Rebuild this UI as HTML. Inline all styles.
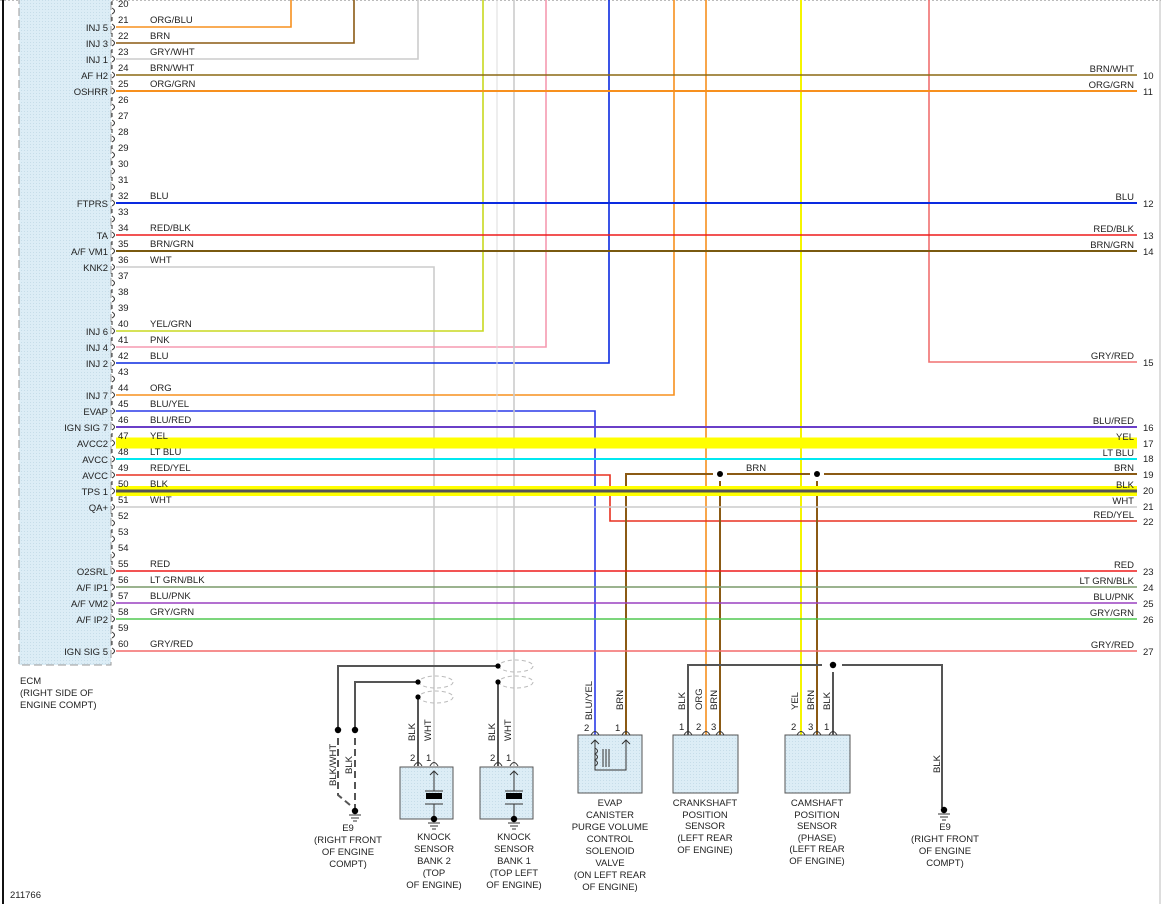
<!DOCTYPE html>
<html><head><meta charset="utf-8"><style>
html,body{margin:0;padding:0;background:#fff}
svg{display:block;font-family:"Liberation Sans",sans-serif;font-size:9.5px;fill:#222}
text{fill:#222}
.r{text-anchor:end}.m{text-anchor:middle}
</style></head><body>
<svg width="1161" height="904" viewBox="0 0 1161 904" xmlns="http://www.w3.org/2000/svg">
<defs>
<pattern id="dots" width="3" height="3" patternUnits="userSpaceOnUse"><rect width="3" height="3" fill="#dcedf6"/><rect width="1" height="1" fill="#c6dde9"/></pattern>
<path id="b" d="M0,-10 v4 M0,-3 q5,3 0,6" fill="none" stroke="#333" stroke-width="1"/>
<path id="p" d="M-4,4 q4,-7 8,0" fill="none" stroke="#333" stroke-width="1"/>
<g id="gnd"><circle cx="0" cy="0" r="3.2" fill="#000"/><path d="M-6,4h12M-4,7h8M-2,10h4" stroke="#333" stroke-width="1"/></g>
</defs>
<line x1="0" y1="0.5" x2="1161" y2="0.5" stroke="#bbb" stroke-dasharray="2,2"/>
<line x1="3" y1="0" x2="3" y2="904" stroke="#111" stroke-width="2"/>
<line x1="1160" y1="0" x2="1160" y2="904" stroke="#bbb"/>
<rect x="19" y="-2" width="92" height="667" fill="url(#dots)" stroke="#999" stroke-dasharray="8,4"/>

<g fill="none" stroke-width="1.6">
<path d="M116,27H291V0" stroke="#f7901e"/>
<path d="M116,43H354V0" stroke="#8b5a14"/>
<path d="M116,59H418V0" stroke="#ccc"/>
<path d="M116,267H434V766" stroke="#ccc"/>
<path d="M116,331H483V0" stroke="#c8d820"/>
<path d="M116,347H546V0" stroke="#f59ab0"/>
<path d="M116,363H609V0" stroke="#0a2ae0"/>
<path d="M116,395H674V0" stroke="#f7901e"/>
<path d="M116,411H595V738" stroke="#2a3ae8"/>
<path d="M514,0V766" stroke="#ccc"/>
<path d="M497,0V660" stroke="#ddd" stroke-width="1"/>
<path d="M706,0V738" stroke="#f7901e"/>
<path d="M801,0V738" stroke="#f5f500" stroke-width="2"/>
<path d="M929,0V362H1137" stroke="#f07070"/>
<path d="M116,475H610V521H1137" stroke="#e83020"/>
<path d="M713,474H626V738" stroke="#8b5a14" stroke-width="2"/>
<path d="M727,474H810M824,474H1137" stroke="#8b5a14" stroke-width="2"/>
<path d="M720,481V738M817,481V738" stroke="#8b5a14" stroke-width="2"/>
</g>
<g stroke-width="1.6">
<line x1="116" y1="75" x2="1137" y2="75" stroke="#8b6914"/>
<line x1="116" y1="91" x2="1137" y2="91" stroke="#f7901e" stroke-width="2"/>
<line x1="116" y1="203" x2="1137" y2="203" stroke="#0a2ae0" stroke-width="2"/>
<line x1="116" y1="235" x2="1137" y2="235" stroke="#ee1c1c"/>
<line x1="116" y1="251" x2="1137" y2="251" stroke="#7a5a10" stroke-width="2"/>
<line x1="116" y1="427" x2="1137" y2="427" stroke="#6a3fc8" stroke-width="2"/>
<line x1="116" y1="443" x2="1137" y2="443" stroke="#ffff00" stroke-width="11"/>
<line x1="116" y1="459" x2="1137" y2="459" stroke="#00e8f0" stroke-width="2"/>
<line x1="116" y1="491" x2="1137" y2="491" stroke="#ffff00" stroke-width="10"/>
<line x1="116" y1="491" x2="1137" y2="491" stroke="#555" stroke-width="3"/>
<line x1="116" y1="507" x2="1137" y2="507" stroke="#ccc"/>
<line x1="116" y1="571" x2="1137" y2="571" stroke="#ee1c1c"/>
<line x1="116" y1="587" x2="1137" y2="587" stroke="#7a9a6a"/>
<line x1="116" y1="603" x2="1137" y2="603" stroke="#9a40c0"/>
<line x1="116" y1="619" x2="1137" y2="619" stroke="#50c850"/>
<line x1="116" y1="651" x2="1137" y2="651" stroke="#f46a6a"/>
</g>
<text x="746" y="471">BRN</text>
<circle cx="720" cy="474" r="3" fill="#000"/><circle cx="817" cy="474" r="3" fill="#000"/>

<g>
<use href="#b" x="112" y="11"/><use href="#b" x="112" y="27"/><use href="#b" x="112" y="43"/><use href="#b" x="112" y="59"/><use href="#b" x="112" y="75"/><use href="#b" x="112" y="91"/><use href="#b" x="112" y="107"/><use href="#b" x="112" y="123"/><use href="#b" x="112" y="139"/><use href="#b" x="112" y="155"/><use href="#b" x="112" y="171"/><use href="#b" x="112" y="187"/><use href="#b" x="112" y="203"/><use href="#b" x="112" y="219"/><use href="#b" x="112" y="235"/><use href="#b" x="112" y="251"/><use href="#b" x="112" y="267"/><use href="#b" x="112" y="283"/><use href="#b" x="112" y="299"/><use href="#b" x="112" y="315"/><use href="#b" x="112" y="331"/><use href="#b" x="112" y="347"/><use href="#b" x="112" y="363"/><use href="#b" x="112" y="379"/><use href="#b" x="112" y="395"/><use href="#b" x="112" y="411"/><use href="#b" x="112" y="427"/><use href="#b" x="112" y="443"/><use href="#b" x="112" y="459"/><use href="#b" x="112" y="475"/><use href="#b" x="112" y="491"/><use href="#b" x="112" y="507"/><use href="#b" x="112" y="523"/><use href="#b" x="112" y="539"/><use href="#b" x="112" y="555"/><use href="#b" x="112" y="571"/><use href="#b" x="112" y="587"/><use href="#b" x="112" y="603"/><use href="#b" x="112" y="619"/><use href="#b" x="112" y="635"/><use href="#b" x="112" y="651"/>
</g>
<g>
<text x="118" y="7">20</text><text x="118" y="23">21</text><text x="118" y="39">22</text><text x="118" y="55">23</text><text x="118" y="71">24</text><text x="118" y="87">25</text><text x="118" y="103">26</text><text x="118" y="119">27</text><text x="118" y="135">28</text><text x="118" y="151">29</text><text x="118" y="167">30</text><text x="118" y="183">31</text><text x="118" y="199">32</text><text x="118" y="215">33</text><text x="118" y="231">34</text><text x="118" y="247">35</text><text x="118" y="263">36</text><text x="118" y="279">37</text><text x="118" y="295">38</text><text x="118" y="311">39</text><text x="118" y="327">40</text><text x="118" y="343">41</text><text x="118" y="359">42</text><text x="118" y="375">43</text><text x="118" y="391">44</text><text x="118" y="407">45</text><text x="118" y="423">46</text><text x="118" y="439">47</text><text x="118" y="455">48</text><text x="118" y="471">49</text><text x="118" y="487">50</text><text x="118" y="503">51</text><text x="118" y="519">52</text><text x="118" y="535">53</text><text x="118" y="551">54</text><text x="118" y="567">55</text><text x="118" y="583">56</text><text x="118" y="599">57</text><text x="118" y="615">58</text><text x="118" y="631">59</text><text x="118" y="647">60</text>
</g>
<g>
<text x="150" y="23">ORG/BLU</text><text x="150" y="39">BRN</text><text x="150" y="55">GRY/WHT</text><text x="150" y="71">BRN/WHT</text><text x="150" y="87">ORG/GRN</text><text x="150" y="199">BLU</text><text x="150" y="231">RED/BLK</text><text x="150" y="247">BRN/GRN</text><text x="150" y="263">WHT</text><text x="150" y="327">YEL/GRN</text><text x="150" y="343">PNK</text><text x="150" y="359">BLU</text><text x="150" y="391">ORG</text><text x="150" y="407">BLU/YEL</text><text x="150" y="423">BLU/RED</text><text x="150" y="439">YEL</text><text x="150" y="455">LT BLU</text><text x="150" y="471">RED/YEL</text><text x="150" y="487">BLK</text><text x="150" y="503">WHT</text><text x="150" y="567">RED</text><text x="150" y="583">LT GRN/BLK</text><text x="150" y="599">BLU/PNK</text><text x="150" y="615">GRY/GRN</text><text x="150" y="647">GRY/RED</text>
</g>
<g class="r">
<text class="r" x="108" y="31">INJ 5</text><text class="r" x="108" y="47">INJ 3</text><text class="r" x="108" y="63">INJ 1</text><text class="r" x="108" y="79">AF H2</text><text class="r" x="108" y="95">OSHRR</text><text class="r" x="108" y="207">FTPRS</text><text class="r" x="108" y="239">TA</text><text class="r" x="108" y="255">A/F VM1</text><text class="r" x="108" y="271">KNK2</text><text class="r" x="108" y="335">INJ 6</text><text class="r" x="108" y="351">INJ 4</text><text class="r" x="108" y="367">INJ 2</text><text class="r" x="108" y="399">INJ 7</text><text class="r" x="108" y="415">EVAP</text><text class="r" x="108" y="431">IGN SIG 7</text><text class="r" x="108" y="447">AVCC2</text><text class="r" x="108" y="463">AVCC</text><text class="r" x="108" y="479">AVCC</text><text class="r" x="108" y="495">TPS 1</text><text class="r" x="108" y="511">QA+</text><text class="r" x="108" y="575">O2SRL</text><text class="r" x="108" y="591">A/F IP1</text><text class="r" x="108" y="607">A/F VM2</text><text class="r" x="108" y="623">A/F IP2</text><text class="r" x="108" y="655">IGN SIG 5</text>
</g>
<g>
<text class="r" x="1134" y="72">BRN/WHT</text><text class="r" x="1134" y="88">ORG/GRN</text><text class="r" x="1134" y="200">BLU</text><text class="r" x="1134" y="232">RED/BLK</text><text class="r" x="1134" y="248">BRN/GRN</text><text class="r" x="1134" y="359">GRY/RED</text><text class="r" x="1134" y="424">BLU/RED</text><text class="r" x="1134" y="440">YEL</text><text class="r" x="1134" y="456">LT BLU</text><text class="r" x="1134" y="471">BRN</text><text class="r" x="1134" y="488">BLK</text><text class="r" x="1134" y="504">WHT</text><text class="r" x="1134" y="518">RED/YEL</text><text class="r" x="1134" y="568">RED</text><text class="r" x="1134" y="584">LT GRN/BLK</text><text class="r" x="1134" y="600">BLU/PNK</text><text class="r" x="1134" y="616">GRY/GRN</text><text class="r" x="1134" y="648">GRY/RED</text>
<text x="1143" y="79">10</text><text x="1143" y="95">11</text><text x="1143" y="207">12</text><text x="1143" y="239">13</text><text x="1143" y="255">14</text><text x="1143" y="366">15</text><text x="1143" y="431">16</text><text x="1143" y="447">17</text><text x="1143" y="462">18</text><text x="1143" y="478">19</text><text x="1143" y="494">20</text><text x="1143" y="510">21</text><text x="1143" y="525">22</text><text x="1143" y="575">23</text><text x="1143" y="591">24</text><text x="1143" y="607">25</text><text x="1143" y="623">26</text><text x="1143" y="655">27</text>
</g>

<text x="20" y="684">ECM</text><text x="20" y="696">(RIGHT SIDE OF</text><text x="20" y="708">ENGINE COMPT)</text>
<text x="10" y="898">211766</text>

<g fill="none" stroke="#555" stroke-width="2">
<path d="M338,730V666H498"/>
<path d="M355,730V682H418"/>
<path d="M418,697V766"/>
<path d="M498,682V766"/>
<path d="M338,738V795L350,805" stroke-dasharray="7,4"/>
<path d="M355,738V808" stroke-dasharray="7,4"/>
</g>
<g fill="none" stroke="#bbb" stroke-dasharray="4,3">
<ellipse cx="436" cy="682" rx="17" ry="6"/><ellipse cx="436" cy="697" rx="17" ry="6"/>
<ellipse cx="516" cy="666" rx="17" ry="6"/><ellipse cx="516" cy="682" rx="17" ry="6"/>
</g>
<g fill="#000"><circle cx="338" cy="730" r="3.2"/><circle cx="355" cy="730" r="3.2"/><circle cx="418" cy="682" r="2.6"/><circle cx="418" cy="697" r="2.6"/><circle cx="498" cy="666" r="2.6"/><circle cx="498" cy="682" r="2.6"/></g>
<use href="#gnd" x="355" y="811"/>
<text transform="translate(336,786) rotate(-90)">BLK/WHT</text>
<text transform="translate(352,774) rotate(-90)">BLK</text>
<g class="m"><text class="m" x="348" y="831">E9</text><text class="m" x="348" y="843">(RIGHT FRONT</text><text class="m" x="348" y="855">OF ENGINE</text><text class="m" x="348" y="867">COMPT)</text></g>

<g>
<rect x="400" y="767" width="53" height="52" fill="url(#dots)" stroke="#555"/>
<rect x="480" y="767" width="53" height="52" fill="url(#dots)" stroke="#555"/>
<path d="M434,771v20M430,775l4,-4l4,4M434,804v15M425,791h18M425,804h18" stroke="#333" fill="none"/>
<rect x="426" y="793" width="16" height="6" fill="#000"/>
<path d="M514,771v20M510,775l4,-4l4,4M514,804v15M505,791h18M505,804h18" stroke="#333" fill="none"/>
<rect x="506" y="793" width="16" height="6" fill="#000"/>
<use href="#gnd" x="434" y="819"/><use href="#gnd" x="514" y="819"/>
<use href="#p" x="418" y="762"/><use href="#p" x="434" y="762"/><use href="#p" x="498" y="762"/><use href="#p" x="514" y="762"/>
<text x="410" y="761">2</text><text x="426" y="761">1</text><text x="490" y="761">2</text><text x="506" y="761">1</text>
<text transform="translate(415,741) rotate(-90)">BLK</text><text transform="translate(431,741) rotate(-90)">WHT</text>
<text transform="translate(495,741) rotate(-90)">BLK</text><text transform="translate(511,741) rotate(-90)">WHT</text>
<text class="m" x="434" y="840">KNOCK</text><text class="m" x="434" y="852">SENSOR</text><text class="m" x="434" y="864">BANK 2</text><text class="m" x="434" y="876">(TOP</text><text class="m" x="434" y="888">OF ENGINE)</text>
<text class="m" x="514" y="840">KNOCK</text><text class="m" x="514" y="852">SENSOR</text><text class="m" x="514" y="864">BANK 1</text><text class="m" x="514" y="876">(TOP LEFT</text><text class="m" x="514" y="888">OF ENGINE)</text>
</g>

<rect x="578" y="735" width="64" height="58" fill="url(#dots)" stroke="#555"/>
<path d="M595,740v30h31v-30M591,744l4,-4l4,4M622,744l4,-4l4,4" stroke="#333" fill="none"/>
<path d="M595,748q5,3 0,6q5,3 0,6q5,3 0,6" stroke="#333" fill="none"/>
<path d="M603,749v18M606,749v18M609,749v18" stroke="#333"/>
<use href="#p" x="595" y="731"/><use href="#p" x="626" y="731"/>
<text x="584" y="731">2</text><text x="615" y="731">1</text>
<text transform="translate(592,720) rotate(-90)">BLU/YEL</text><text transform="translate(623,710) rotate(-90)">BRN</text>
<g><text class="m" x="610" y="806">EVAP</text><text class="m" x="610" y="818">CANISTER</text><text class="m" x="610" y="830">PURGE VOLUME</text><text class="m" x="610" y="842">CONTROL</text><text class="m" x="610" y="854">SOLENOID</text><text class="m" x="610" y="866">VALVE</text><text class="m" x="610" y="878">(ON LEFT REAR</text><text class="m" x="610" y="890">OF ENGINE)</text></g>

<path d="M688,738V665H822M842,665H942V808M833,672V738" stroke="#555" stroke-width="2" fill="none"/>
<circle cx="833" cy="665" r="3.2" fill="#000"/>
<rect x="673" y="735" width="65" height="58" fill="url(#dots)" stroke="#555"/>
<rect x="785" y="735" width="65" height="58" fill="url(#dots)" stroke="#555"/>
<use href="#p" x="688" y="731"/><use href="#p" x="706" y="731"/><use href="#p" x="720" y="731"/>
<use href="#p" x="801" y="731"/><use href="#p" x="817" y="731"/><use href="#p" x="833" y="731"/>
<text x="679" y="730">1</text><text x="696" y="730">2</text><text x="711" y="730">3</text>
<text x="791" y="730">2</text><text x="808" y="730">3</text><text x="824" y="730">1</text>
<text transform="translate(685,710) rotate(-90)">BLK</text><text transform="translate(702,710) rotate(-90)">ORG</text><text transform="translate(717,710) rotate(-90)">BRN</text>
<text transform="translate(798,710) rotate(-90)">YEL</text><text transform="translate(814,710) rotate(-90)">BRN</text><text transform="translate(830,710) rotate(-90)">BLK</text>
<text transform="translate(940,773) rotate(-90)">BLK</text>
<use href="#gnd" x="944" y="810"/>
<g><text class="m" x="705" y="806">CRANKSHAFT</text><text class="m" x="705" y="818">POSITION</text><text class="m" x="705" y="829">SENSOR</text><text class="m" x="705" y="841">(LEFT REAR</text><text class="m" x="705" y="853">OF ENGINE)</text>
<text class="m" x="817" y="806">CAMSHAFT</text><text class="m" x="817" y="818">POSITION</text><text class="m" x="817" y="829">SENSOR</text><text class="m" x="817" y="841">(PHASE)</text><text class="m" x="817" y="852">(LEFT REAR</text><text class="m" x="817" y="864">OF ENGINE)</text>
<text class="m" x="945" y="830">E9</text><text class="m" x="945" y="842">(RIGHT FRONT</text><text class="m" x="945" y="854">OF ENGINE</text><text class="m" x="945" y="866">COMPT)</text></g>
</svg>
</body></html>
